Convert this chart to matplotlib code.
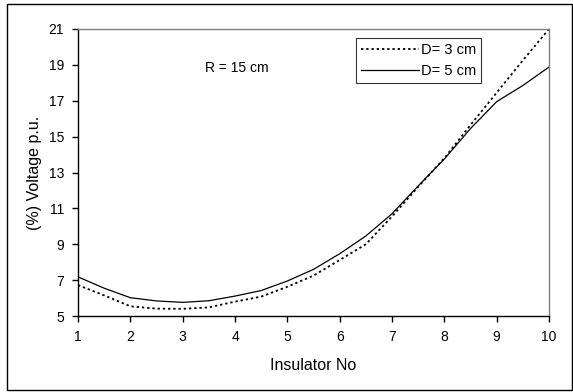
import matplotlib
matplotlib.use("Agg")
import matplotlib.pyplot as plt
from matplotlib.patches import Rectangle

plt.rcParams['font.family'] = ['Liberation Sans', 'DejaVu Sans']

insulator = [1, 1.5, 2, 2.5, 3, 3.5, 4, 4.5, 5, 5.5, 6, 6.5, 7, 7.5, 8, 8.5, 9, 9.5, 10]
d3_voltage = [6.72, 6.15, 5.54, 5.41, 5.40, 5.48, 5.80, 6.08, 6.63, 7.25, 8.12, 9.00, 10.55, 12.20, 13.80, 15.65, 17.45, 19.25, 21.0]
d5_voltage = [7.18, 6.55, 6.02, 5.84, 5.76, 5.85, 6.11, 6.42, 6.95, 7.60, 8.47, 9.46, 10.70, 12.25, 13.75, 15.45, 16.95, 17.85, 18.88]
series_labels = ["D= 3 cm", "D= 5 cm"]
x_ticks = list(range(1, 11))
y_ticks = list(range(5, 22, 2))

fig = plt.figure(figsize=(5.73, 3.92), dpi=100)
ax = fig.add_axes([78/573, 1-316/392, (549-78)/573, (316-29)/392])

ax.plot(insulator, d3_voltage, color='black', lw=1.3, linestyle=(0, (1.3, 1.6)), label=series_labels[0])
ax.plot(insulator, d5_voltage, color='black', lw=0.9, label=series_labels[1])

ax.set_xlim(1, 10)
ax.set_ylim(5, 21)
ax.set_xticks(x_ticks)
ax.set_yticks(y_ticks)
ax.tick_params(direction='out', length=4, width=1, labelsize=10, pad=6)
for s in ['top', 'right']:
    ax.spines[s].set_color('#808080')
    ax.spines[s].set_linewidth(1)
for s in ['left', 'bottom']:
    ax.spines[s].set_linewidth(1)

ax.set_xlabel('Insulator No', fontsize=11.5, labelpad=10)
ax.set_ylabel('(%) Voltage p.u.', fontsize=11.5, labelpad=5)

ax.text(4.04, 18.8, 'R = 15 cm', fontsize=10, ha='center', va='center')

leg = ax.legend(loc='upper left', bbox_to_anchor=((356-78)/471, 1-(38-29)/287),
                fontsize=10.5, frameon=True, fancybox=False, handlelength=4.0,
                handletextpad=0.1, borderpad=0.35, labelspacing=0.45, borderaxespad=0)
leg.get_frame().set_edgecolor('black')
leg.get_frame().set_linewidth(0.8)

fig.patches.append(Rectangle((7/573, 1-390/392), (572-7)/573, (390-4)/392,
                             transform=fig.transFigure, fill=False,
                             edgecolor='black', linewidth=1))

fig.savefig('out.png', dpi=100)
